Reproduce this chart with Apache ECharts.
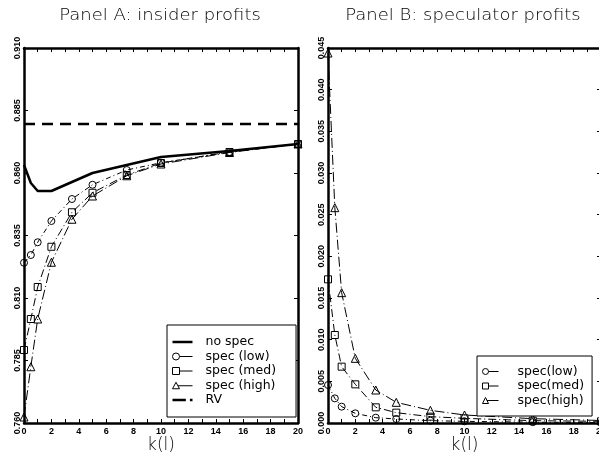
<!DOCTYPE html>
<html><head><meta charset="utf-8">
<script src="https://cdn.jsdelivr.net/npm/echarts@6/dist/echarts.min.js"></script>
<style>html,body{margin:0;padding:0;background:#fff}#c{width:599px;height:464px}</style>
</head><body><div id="c"></div>
<script>
// ---- data ----
const kGrid = [0, 0.5, 1, 2, 3.5, 5, 7.5, 10, 15, 20];
const insiderNoSpec = [0.8632, 0.8560, 0.8528, 0.8528, 0.8564, 0.8600, 0.8632, 0.8664, 0.8688, 0.8716];
const insiderLow    = [0.8241, 0.8272, 0.8323, 0.8408, 0.8496, 0.8553, 0.8612, 0.8641, 0.8684, 0.8716];
const insiderMed    = [0.7892, 0.8016, 0.8144, 0.8305, 0.8443, 0.8521, 0.8592, 0.8640, 0.8684, 0.8716];
const insiderHigh   = [0.7624, 0.7825, 0.8016, 0.8243, 0.8415, 0.8508, 0.8589, 0.8636, 0.8682, 0.8716];
const rvK = [0, 20];
const rvValue = [0.8796, 0.8796];
const specLow  = [0.00456, 0.00296, 0.00196, 0.00116, 0.00064, 0.00048, 0.00028, 0.00020, 0.00010, 0.00005];
const specMed  = [0.01724, 0.01056, 0.00676, 0.00464, 0.00188, 0.00124, 0.00076, 0.00056, 0.00028, 0.00020];
const specHigh = [0.0444, 0.02584, 0.01564, 0.00776, 0.00396, 0.00248, 0.00152, 0.00096, 0.00052, 0.00030];
const yTicksA = [0.760, 0.785, 0.810, 0.835, 0.860, 0.885, 0.910];
const yTicksB = [0.000, 0.005, 0.010, 0.015, 0.020, 0.025, 0.030, 0.035, 0.040, 0.045];
const titleA = 'Panel A: insider profits';
const titleB = 'Panel B: speculator profits';
const xName = 'k(l)';
const legendNamesA = ['no spec', 'spec (low)', 'spec (med)', 'spec (high)', 'RV'];
const legendNamesB = ['spec(low)', 'spec(med)', 'spec(high)'];

// ---- chart ----
const chart = echarts.init(document.getElementById('c'), null, {renderer: 'canvas'});
const pairs = (xs, ys) => xs.map((x, i) => [x, ys[i]]);
const FONT = 'DejaVu Sans';
const tickFont = {fontSize: 9, fontWeight: 'bold', fontFamily: 'Liberation Sans', color: '#000'};
const LW = 2.5;

function xAx(grid, top) {
  return {
    type: 'value', gridIndex: grid, position: top ? 'top' : 'bottom',
    min: 0, max: 20, interval: 2,
    name: top ? '' : xName, nameLocation: 'middle', nameGap: 14, nameMoveOverlap: false,
    nameTextStyle: {fontSize: 17, fontFamily: FONT, fontWeight: 200, color: '#000', verticalAlign: 'top'},
    axisLine: {show: true, onZero: false, lineStyle: {color: '#000', width: LW}},
    axisTick: {show: true, inside: true, length: 4, lineStyle: {color: '#000', width: 1}},
    minorTick: {show: true, splitNumber: 2, length: 4, lineStyle: {color: '#000', width: 1}},
    axisLabel: {show: !top, margin: 4, ...tickFont},
    splitLine: {show: false}
  };
}
function yAx(grid, right, ticks, min, max) {
  return {
    type: 'value', gridIndex: grid, position: right ? 'right' : 'left',
    min: min, max: max,
    axisLine: {show: true, onZero: false, lineStyle: {color: '#000', width: LW}},
    axisTick: {show: true, inside: true, length: 4, customValues: ticks, lineStyle: {color: '#000', width: 1}},
    axisLabel: {show: !right, customValues: ticks, rotate: 90, margin: 2,
      formatter: v => Number(v).toFixed(3), ...tickFont},
    splitLine: {show: false}
  };
}
function markSeries(name, xi, yi, xs, ys, symbol, dash, size) {
  return {
    name, type: 'line', xAxisIndex: xi, yAxisIndex: yi, data: pairs(xs, ys),
    symbol, symbolSize: size, showSymbol: true, clip: false,
    itemStyle: {color: 'rgba(255,255,255,0)', borderColor: '#000', borderWidth: 1},
    lineStyle: {color: '#000', width: 1, type: dash},
    emphasis: {disabled: true}, silent: true
  };
}

// legend icons (symbol on the left, short line to the right)
const iconCircleA = 'path://M0,5A3.5,3.5,0,1,1,7,5A3.5,3.5,0,1,1,0,5ZM7,5L20,5';
const iconRectA = 'path://M0,1.5L7,1.5L7,8.5L0,8.5ZM7,5L20,5';
const iconTriA = 'path://M0,8L3.5,1.5L7,8ZM5.5,5L20,5';
const iconSolidA = 'path://M0,0L20,0L20,2.5L0,2.5Z';
const iconDashDotA = 'path://M0,0L13,0L13,2.5L0,2.5ZM17,0L19.5,0L19.5,2.5L17,2.5Z';
const iconCircleB = 'path://M0,5A3,3,0,1,1,6,5A3,3,0,1,1,0,5ZM6,5L16,5';
const iconRectB = 'path://M0,2L6,2L6,8L0,8ZM6,5L16,5';
const iconTriB = 'path://M0,8L3,2L6,8ZM4.5,5L16,5';
const iconsA = [iconSolidA, iconCircleA, iconRectA, iconTriA, iconDashDotA];
const iconsB = [iconCircleB, iconRectB, iconTriB];

const legendCommon = {
  orient: 'vertical', selectedMode: false,
  backgroundColor: '#fff', borderColor: '#000', borderWidth: 1, borderRadius: 0,
  itemHeight: 10, itemGap: 0.5, symbolKeepAspect: true,
  itemStyle: {borderWidth: 'inherit'}, lineStyle: {width: 'inherit'}
};

const option = {
  animation: false,
  backgroundColor: '#fff',
  grid: [
    {left: 24, top: 48, width: 274, height: 375, outerBoundsMode: 'none', containLabel: false},
    {left: 328, top: 48, width: 273, height: 375, outerBoundsMode: 'none', containLabel: false}
  ],
  xAxis: [xAx(0, false), xAx(0, true), xAx(1, false), xAx(1, true)],
  yAxis: [
    yAx(0, false, yTicksA, 0.760, 0.910), yAx(0, true, yTicksA, 0.760, 0.910),
    yAx(1, false, yTicksB, 0, 0.045), yAx(1, true, yTicksB, 0, 0.045)
  ],
  legend: [
    Object.assign({}, legendCommon, {
      left: 167, top: 325, itemWidth: 20,
      padding: [10, 20, 10, 5],
      data: legendNamesA.map((n, i) => ({name: n, icon: iconsA[i]})),
      textStyle: {fontSize: 12.5, fontFamily: FONT, color: '#000', lineHeight: 14, padding: [0, 0, 0, 8]}
    }),
    Object.assign({}, legendCommon, {
      left: 477, top: 356, itemWidth: 16,
      padding: [8.5, 8, 8.5, 5],
      data: legendNamesB.map((n, i) => ({name: n, icon: iconsB[i]})),
      textStyle: {fontSize: 12.5, fontFamily: FONT, color: '#000', lineHeight: 14, padding: [0, 0, 0, 14]}
    })
  ],
  graphic: [
    {type: 'text', x: 160, y: 16, scaleX: 1.2, silent: true,
      style: {text: titleA, fill: '#000', fontSize: 15, fontWeight: 200, fontFamily: FONT, align: 'center', verticalAlign: 'middle'}},
    {type: 'text', x: 463, y: 16, scaleX: 1.2, silent: true,
      style: {text: titleB, fill: '#000', fontSize: 15, fontWeight: 200, fontFamily: FONT, align: 'center', verticalAlign: 'middle'}}
  ],
  series: [
    {name: 'no spec', type: 'line', xAxisIndex: 0, yAxisIndex: 0, data: pairs(kGrid, insiderNoSpec),
      showSymbol: false, symbol: 'none', lineStyle: {color: '#000', width: LW},
      itemStyle: {color: '#000', borderWidth: 0}, silent: true},
    markSeries('spec (low)', 0, 0, kGrid, insiderLow, 'circle', [5, 3, 1, 3], 7),
    markSeries('spec (med)', 0, 0, kGrid, insiderMed, 'rect', [8, 3, 1, 3], 7),
    markSeries('spec (high)', 0, 0, kGrid, insiderHigh, 'triangle', [10, 3, 1, 3], 8),
    {name: 'RV', type: 'line', xAxisIndex: 0, yAxisIndex: 0, data: pairs(rvK, rvValue),
      showSymbol: false, symbol: 'none', lineStyle: {color: '#000', width: LW, type: [11, 7]},
      itemStyle: {color: '#000', borderWidth: 0}, silent: true},
    markSeries('spec(low)', 2, 2, kGrid, specLow, 'circle', [5, 3, 1, 3], 7),
    markSeries('spec(med)', 2, 2, kGrid, specMed, 'rect', [8, 3, 1, 3], 7),
    markSeries('spec(high)', 2, 2, kGrid, specHigh, 'triangle', [10, 3, 1, 3], 8)
  ]
};
chart.setOption(option);
</script></body></html>
